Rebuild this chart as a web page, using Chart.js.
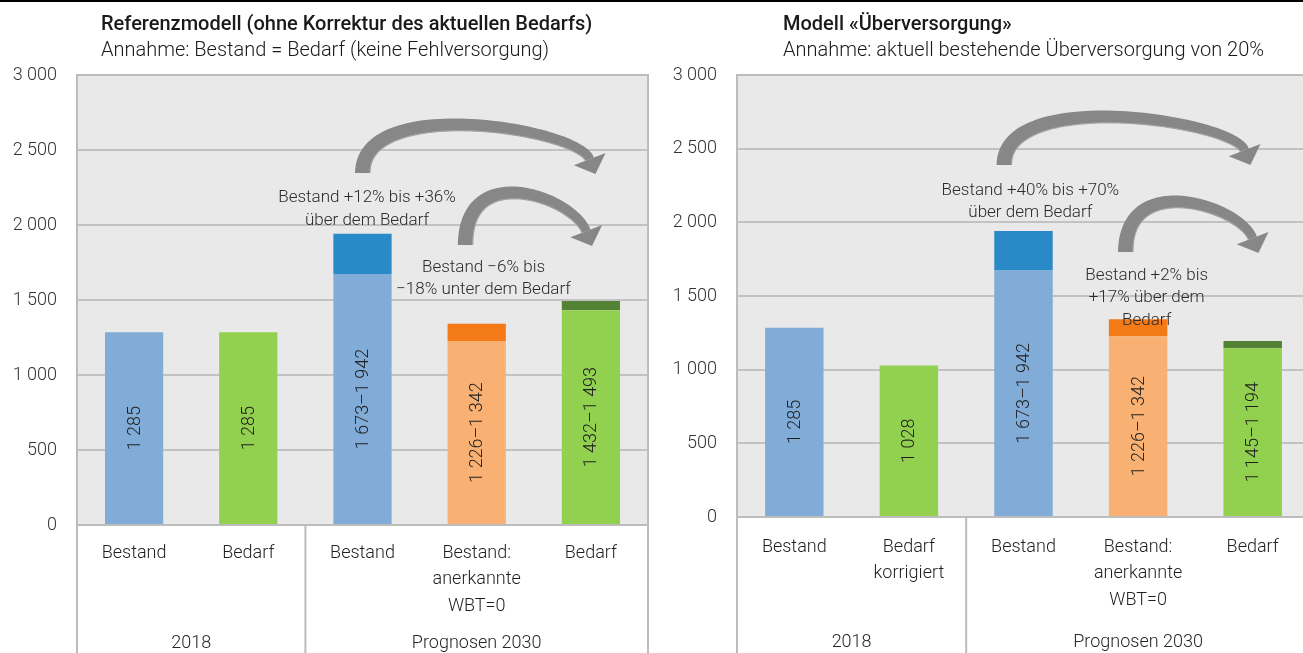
<!DOCTYPE html>
<html>
<head>
<meta charset="utf-8">
<script src="https://cdn.jsdelivr.net/npm/chart.js"></script>
<style>
  html, body { margin: 0; padding: 0; background: #fff; }
  #page { position: relative; width: 1303px; height: 653px; overflow: hidden; }
  #rule { position: absolute; left: 0; top: 0; width: 1303px; height: 2px; background: #000; }
  .panel { position: absolute; top: 0; }
</style>
</head>
<body>
<div id="page">
  <canvas id="leftChart" class="panel" width="660" height="653" style="left:0"></canvas>
  <canvas id="rightChart" class="panel" width="650" height="653" style="left:660px"></canvas>
  <div id="rule"></div>
</div>
<script>
// categories (multi-line labels) and the two groups under them
const leftLabels = [['Bestand'], ['Bedarf'], ['Bestand'], ['Bestand:', 'anerkannte', 'WBT=0'], ['Bedarf']];
const rightLabels = [['Bestand'], ['Bedarf', 'korrigiert'], ['Bestand'], ['Bestand:', 'anerkannte', 'WBT=0'], ['Bedarf']];
const groupLabels = ['2018', 'Prognosen 2030'];
const groupSizes = [2, 3];

// lower / upper value of each bar (equal where there is no range)
const leftLow = [1285, 1285, 1673, 1226, 1432];
const leftHigh = [1285, 1285, 1942, 1342, 1493];
const rightLow = [1285, 1028, 1673, 1226, 1145];
const rightHigh = [1285, 1028, 1942, 1342, 1194];

// y axis
const yMin = 0;
const yMax = 3000;
const yStep = 500;

// annotation texts
const leftNotes = [
  ['Bestand +12% bis +36%', 'über dem Bedarf'],
  ['Bestand \u22126% bis', '\u221218% unter dem Bedarf']
];
const rightNotes = [
  ['Bestand +40% bis +70%', 'über dem Bedarf'],
  ['Bestand +2% bis', '+17% über dem', 'Bedarf']
];

const baseColors = ['#80acd7', '#92d150', '#80acd7', '#f8b172', '#92d150'];
const topColors = ['#2a8ac8', '#548235', '#2a8ac8', '#f47a17', '#548235'];

Chart.defaults.font.family = 'Roboto, "Noto Sans", sans-serif';
Chart.defaults.color = '#262626';

const fmt = n => String(n).replace(/\B(?=(\d{3})+(?!\d))/g, ' ');

function norm(x, y) { const l = Math.hypot(x, y); return { x: x / l, y: y / l }; }

// curved block arrow: rises from the start point, arcs over and points down at the tip
function drawArrow(ctx, S, peak, tip) {
  const dir = norm(0.36, 0.93);
  const headLen = 16, headHalf = 17;
  const B = { x: tip.x - dir.x * headLen, y: tip.y - dir.y * headLen };
  const L = 0.9 * (B.y - peak) / dir.y;
  const P2 = { x: B.x - dir.x * L, y: B.y - dir.y * L };
  const P1 = { x: S.x, y: (peak - 0.125 * S.y - 0.375 * P2.y - 0.125 * B.y) / 0.375 };
  const N = 60, left = [], right = [];
  for (let k = 0; k <= N; k++) {
    const t = k / N, u = 1 - t;
    const px = u*u*u*S.x + 3*u*u*t*P1.x + 3*u*t*t*P2.x + t*t*t*B.x;
    const py = u*u*u*S.y + 3*u*u*t*P1.y + 3*u*t*t*P2.y + t*t*t*B.y;
    const dx = 3*u*u*(P1.x - S.x) + 6*u*t*(P2.x - P1.x) + 3*t*t*(B.x - P2.x);
    const dy = 3*u*u*(P1.y - S.y) + 6*u*t*(P2.y - P1.y) + 3*t*t*(B.y - P2.y);
    const d = norm(dx, dy);
    const w = (15 - 6 * t) / 2;
    left.push({ x: px - d.y * w, y: py + d.x * w });
    right.push({ x: px + d.y * w, y: py - d.x * w });
  }
  ctx.save();
  ctx.fillStyle = '#878787';
  ctx.beginPath();
  left.forEach((p, i) => i ? ctx.lineTo(p.x, p.y) : ctx.moveTo(p.x, p.y));
  for (let i = right.length - 1; i >= 0; i--) ctx.lineTo(right[i].x, right[i].y);
  ctx.closePath();
  ctx.fill();
  ctx.beginPath();
  ctx.moveTo(B.x - dir.y * headHalf, B.y + dir.x * headHalf);
  ctx.lineTo(tip.x, tip.y);
  ctx.lineTo(B.x + dir.y * headHalf, B.y - dir.x * headHalf);
  ctx.closePath();
  ctx.fill();
  // lighter rim along the inside of the band
  ctx.strokeStyle = '#a3a3a3';
  ctx.lineWidth = 1.2;
  ctx.beginPath();
  left.forEach((p, i) => i ? ctx.lineTo(p.x, p.y) : ctx.moveTo(p.x, p.y));
  ctx.stroke();
  ctx.restore();
}

const panelDecor = {
  id: 'panelDecor',
  beforeDraw(chart) {
    const { ctx, chartArea: a } = chart;
    ctx.save();
    ctx.fillStyle = '#e9e9e9';
    ctx.fillRect(a.left, a.top, a.right - a.left, a.bottom - a.top);
    ctx.restore();
  },
  afterDatasetsDraw(chart, args, opts) {
    const { ctx, chartArea: a } = chart;
    const xs = chart.scales.x, ys = chart.scales.y;
    ctx.save();

    // plot frame and category separators below the axis
    ctx.strokeStyle = '#bcbcbc';
    ctx.lineWidth = 2;
    ctx.strokeRect(a.left, a.top, a.right - a.left, a.bottom - a.top);
    const edges = [a.left];
    let idx = 0;
    groupSizes.forEach(n => {
      idx += n;
      edges.push(idx < chart.data.labels.length
        ? (xs.getPixelForValue(idx - 1) + xs.getPixelForValue(idx)) / 2
        : a.right);
    });
    ctx.beginPath();
    edges.forEach(x => { ctx.moveTo(x, a.bottom); ctx.lineTo(x, chart.height); });
    ctx.stroke();

    // group labels
    ctx.fillStyle = '#262626';
    ctx.font = '300 18px Roboto';
    ctx.textAlign = 'center';
    ctx.textBaseline = 'alphabetic';
    groupLabels.forEach((g, i) => ctx.fillText(g, (edges[i] + edges[i + 1]) / 2, opts.groupY));

    // values written up the lower part of each bar
    const low = chart.data.datasets[0].data;
    const top = chart.data.datasets[1].data;
    const meta = chart.getDatasetMeta(0);
    ctx.fillStyle = '#1f1f1f';
    ctx.textBaseline = 'middle';
    meta.data.forEach((el, i) => {
      const txt = top[i] ? fmt(low[i]) + '\u2013' + fmt(low[i] + top[i]) : fmt(low[i]);
      ctx.save();
      ctx.translate(el.x, (el.y + el.base) / 2);
      ctx.rotate(-Math.PI / 2);
      ctx.fillText(txt, 0, 1);
      ctx.restore();
    });

    // curved arrows
    opts.arrows.forEach(ar => {
      drawArrow(ctx,
        { x: xs.getPixelForValue(ar.from[0]), y: ys.getPixelForValue(ar.from[1]) },
        ys.getPixelForValue(ar.peak),
        { x: xs.getPixelForValue(ar.to[0]), y: ys.getPixelForValue(ar.to[1]) });
    });

    // annotation texts
    ctx.fillStyle = '#2b2b2b';
    ctx.font = '300 17px Roboto';
    ctx.textBaseline = 'alphabetic';
    opts.notes.forEach((n, k) => {
      const pos = opts.noteAt[k];
      const x = xs.getPixelForValue(pos[0]);
      const y = ys.getPixelForValue(pos[1]);
      n.forEach((line, j) => ctx.fillText(line, x, y + j * 22.5));
    });

    // heading
    ctx.textAlign = 'left';
    ctx.fillStyle = '#1a1a1a';
    ctx.font = '500 20px Roboto';
    ctx.fillText(opts.title, opts.titleX, 30);
    ctx.font = '300 20px Roboto';
    ctx.fillText(opts.subtitle, opts.titleX, 56);
    ctx.restore();
  }
};

function makeChart(id, labels, low, high, cfg) {
  return new Chart(document.getElementById(id), {
    type: 'bar',
    data: {
      labels: labels,
      datasets: [
        { data: low, backgroundColor: baseColors, stack: 's' },
        { data: high.map((h, i) => h - low[i]), backgroundColor: topColors, stack: 's' }
      ]
    },
    options: {
      responsive: false,
      animation: false,
      layout: { padding: { top: 75, right: cfg.padRight, bottom: 0, left: 0 } },
      datasets: { bar: { categoryPercentage: 1, barPercentage: 0.51 } },
      plugins: {
        legend: { display: false },
        tooltip: { enabled: false },
        panelDecor: cfg.decor
      },
      scales: {
        x: {
          stacked: true,
          grid: { display: false },
          border: { display: false },
          ticks: {
            padding: cfg.tickPad, maxRotation: 0, autoSkip: false, color: '#1f1f1f',
            font: { size: 18, weight: 300, lineHeight: 1.47 }
          },
          afterFit: s => { s.height = cfg.axisHeight; }
        },
        y: {
          stacked: true,
          min: yMin, max: yMax,
          grid: { color: '#c2c2c2', lineWidth: 2, drawTicks: false },
          border: { display: false },
          ticks: {
            stepSize: yStep, padding: 20, color: '#333',
            font: { size: 18, weight: 300 },
            callback: v => fmt(v)
          },
          afterFit: s => { s.width = 77; }
        }
      }
    },
    plugins: [panelDecor]
  });
}

makeChart('leftChart', leftLabels, leftLow, leftHigh, {
  padRight: 12, tickPad: 7, axisHeight: 128,
  decor: {
    title: 'Referenzmodell (ohne Korrektur des aktuellen Bedarfs)',
    subtitle: 'Annahme: Bestand = Bedarf (keine Fehlversorgung)',
    titleX: 101, groupY: 648,
    notes: leftNotes,
    noteAt: [[2.04, 2153], [3.06, 1687]],
    arrows: [
      { from: [2.0, 2347], peak: 2667, to: [4.04, 2340] },
      { from: [2.9, 1867], peak: 2213, to: [4.01, 1860] }
    ]
  }
});

makeChart('rightChart', rightLabels, rightLow, rightHigh, {
  padRight: 0, tickPad: 9, axisHeight: 136,
  decor: {
    title: 'Modell \u00abÜberversorgung\u00bb',
    subtitle: 'Annahme: aktuell bestehende Überversorgung von 20%',
    titleX: 123, groupY: 647,
    notes: rightNotes,
    noteAt: [[2.06, 2186], [3.075, 1609]],
    arrows: [
      { from: [1.83, 2389], peak: 2715, to: [3.98, 2389] },
      { from: [2.89, 1799], peak: 2138, to: [4.05, 1792] }
    ]
  }
});
</script>
</body>
</html>
